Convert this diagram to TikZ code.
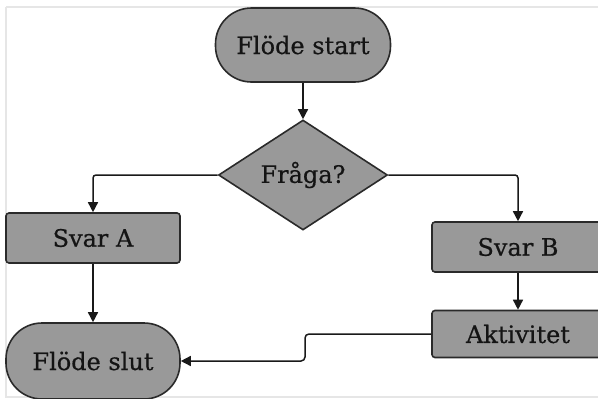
\documentclass[tikz,border=0pt]{standalone}
\usepackage{fontspec}
\setmainfont{DejaVu Serif}
\newfontfamily\labelfont[FakeBold=0.5]{DejaVu Serif}
\usetikzlibrary{shapes.geometric,arrows.meta}
\definecolor{boxfill}{HTML}{999999}
\definecolor{boxline}{HTML}{2A2A2A}
\definecolor{frameline}{HTML}{E6E6E6}
\definecolor{labeltext}{HTML}{141414}
\tikzset{
  base/.style={draw=boxline, line width=1.6pt, fill=boxfill, text=labeltext, inner sep=0pt,
               font=\labelfont\fontsize{24}{27}\selectfont},
  terminal/.style={base, rectangle, rounded corners=36pt},
  process/.style={base, rectangle, rounded corners=3pt},
  decision/.style={base, diamond, aspect=1.5},
  conn/.style={draw=black!90, line width=1.5pt, -{Triangle[length=10pt,width=10pt]}},
}
\begin{document}
\begin{tikzpicture}[x=1pt,y=-1pt]
\useasboundingbox (0,0) rectangle (598,399);
\clip (0,0) rectangle (598,399);
\fill[white] (0,0) rectangle (598,399);
\draw[frameline, line width=1.5pt] (6,7) -- (599,7);
\draw[frameline, line width=1.5pt] (6,7) -- (6,397) -- (599,397);

\node[terminal, minimum width=175pt, minimum height=74pt] (start) at (303,45) {Flöde start};
\node[decision, minimum width=169pt, minimum height=110pt] (q) at (303,175) {Fråga?};
\node[process, minimum width=174pt, minimum height=50pt] (a) at (93,238) {Svar A};
\node[terminal, minimum width=174pt, minimum height=76pt] (end) at (93,361) {Flöde slut};
\node[process, minimum width=172pt, minimum height=50pt] (b) at (518,247) {Svar B};
\node[process, minimum width=172pt, minimum height=47pt] (act) at (518,334) {Aktivitet};

\coordinate (e1) at (305,334);
\coordinate (e2) at (305,361);

\draw[conn] (start.south) -- (q.north);
\draw[conn, rounded corners=3pt] (q.west) -| (a.north);
\draw[conn, rounded corners=3pt] (q.east) -| (b.north);
\draw[conn] (a.south) -- (end.north);
\draw[conn] (b.south) -- (act.north);
\draw[conn, rounded corners=4pt] (act.west) -- (e1) -- (e2) -- (end.east);
\end{tikzpicture}
\end{document}
